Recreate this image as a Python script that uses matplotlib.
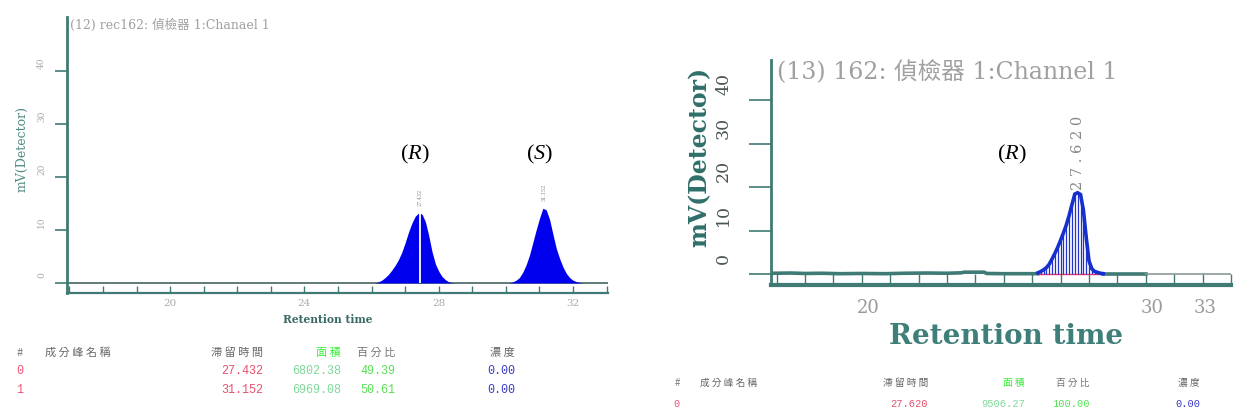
import matplotlib
matplotlib.use("Agg")
import matplotlib.pyplot as plt
from matplotlib.ticker import FixedLocator, MultipleLocator
from matplotlib.transforms import ScaledTranslation

plt.rcParams['font.family'] = ['DejaVu Serif', 'Noto Sans CJK TC']
plt.rcParams['mathtext.fontset'] = 'custom'
plt.rcParams['mathtext.it'] = 'Liberation Serif:italic'
plt.rcParams['mathtext.rm'] = 'Liberation Serif'

# -------------------------
# DATA
# -------------------------
left_title = "(12) rec162: 偵檢器 1:Chanael 1"
right_title = "(13) 162: 偵檢器 1:Channel 1"

# left chromatogram, peak (R)
r_time = [26.1, 26.2, 26.3, 26.4, 26.5, 26.6, 26.7, 26.8, 26.9, 27.0, 27.1, 27.2, 27.3,
          27.4, 27.5, 27.6, 27.7, 27.8, 27.9, 28.0, 28.1, 28.2, 28.3, 28.4, 28.5]
r_mv = [0.0, 0.2, 0.5, 1.0, 1.6, 2.4, 3.3, 4.4, 5.8, 7.6, 9.6, 11.3, 12.6,
        13.2, 13.0, 11.6, 9.0, 5.9, 3.6, 2.2, 1.2, 0.6, 0.2, 0.05, 0.0]

# left chromatogram, peak (S)
s_time = [30.1, 30.2, 30.3, 30.4, 30.5, 30.6, 30.7, 30.8, 30.9, 31.0, 31.1, 31.2,
          31.3, 31.4, 31.5, 31.6, 31.7, 31.8, 31.9, 32.0, 32.1, 32.2, 32.3]
s_mv = [0.0, 0.2, 0.5, 1.0, 2.0, 3.4, 5.2, 7.6, 10.0, 12.2, 14.1, 13.8,
        12.0, 9.2, 6.5, 4.6, 3.0, 1.8, 1.0, 0.5, 0.25, 0.1, 0.0]

left_rt = [27.432, 31.152]
left_rt_height = [13.2, 14.1]

# right chromatogram
base_time = [16.9, 17.5, 18.0, 18.6, 19.2, 20.0, 20.8, 21.5, 22.3, 23.0, 23.5, 23.6,
             24.3, 24.4, 25.0, 25.6, 26.2]
base_mv = [0.2, 0.25, 0.15, 0.2, 0.1, 0.15, 0.1, 0.2, 0.25, 0.2, 0.3, 0.45,
           0.45, 0.15, 0.1, 0.1, 0.1]
tail_time = [28.5, 29.0, 29.5, 30.0]
tail_mv = [0.1, 0.1, 0.1, 0.1]
end_time = [30.0, 31.0, 32.0, 33.0]
end_mv = [0.1, 0.1, 0.1, 0.1]

q_time = [26.2, 26.3, 26.4, 26.5, 26.6, 26.7, 26.8, 26.9, 27.0, 27.1, 27.2, 27.3,
          27.4, 27.5, 27.6, 27.7, 27.8, 27.9, 28.0, 28.1, 28.2, 28.3, 28.4, 28.5]
q_mv = [0.3, 0.6, 1.0, 1.5, 2.3, 3.5, 4.8, 6.2, 7.8, 9.5, 11.3, 13.5,
        16.0, 18.4, 18.7, 18.3, 14.8, 8.5, 3.0, 1.2, 0.6, 0.4, 0.2, 0.1]
right_rt = 27.620

# tables
headers = ["#", "成 分 峰 名 稱", "滯 留 時 間", "面 積", "百 分 比", "濃 度"]
left_idx = ["0", "1"]
left_ret = ["27.432", "31.152"]
left_area = ["6802.38", "6969.08"]
left_pct = ["49.39", "50.61"]
left_conc = ["0.00", "0.00"]
right_idx = ["0"]
right_ret = ["27.620"]
right_area = ["9506.27"]
right_pct = ["100.00"]
right_conc = ["0.00"]

TEAL = "#3f7a74"
W, H = 1237, 416

fig = plt.figure(figsize=(W / 100, H / 100), dpi=100)


def fx(px):
    return px / W


def fy(py):
    return 1 - py / H


# -------------------------
# LEFT CHROMATOGRAM
# -------------------------
ax1 = fig.add_axes([fx(67), fy(293), (608 - 67) / W, (293 - 17) / H])
ax1.set_xlim(16.93, 33.04)
ax1.set_ylim(-1.9, 50.2)
ax1.axhline(0, color="#55706c", lw=1.3, zorder=1)
ax1.fill_between(r_time, r_mv, 0, color="#0000ee", lw=0, zorder=2)
ax1.fill_between(s_time, s_mv, 0, color="#0000ee", lw=0, zorder=2)
ax1.vlines(left_rt[0], 0, left_rt_height[0], color="white", lw=1.3, zorder=3)
for t, h in zip(left_rt, left_rt_height):
    ax1.text(t, h + 1.3, f"{t:.3f}", rotation=90, fontsize=3.5, color="#888888",
             ha="center", va="bottom")

for sp in ["top", "right"]:
    ax1.spines[sp].set_visible(False)
ax1.spines["left"].set_color(TEAL)
ax1.spines["left"].set_linewidth(2)
ax1.spines["bottom"].set_color(TEAL)
ax1.spines["bottom"].set_linewidth(1.6)

ax1.xaxis.set_major_locator(FixedLocator([20, 24, 28, 32]))
ax1.xaxis.set_minor_locator(MultipleLocator(1))
ax1.tick_params(axis="x", which="both", direction="in", length=5, width=1,
                color=TEAL, labelsize=7.5, labelcolor="#aaaaaa", pad=4)
ax1.set_yticks([0, 10, 20, 30, 40])
ax1.tick_params(axis="y", direction="out", length=9, width=1.2, color=TEAL,
                labelsize=6.5, labelcolor="#aaaaaa", pad=6, labelrotation=90)
for lab in ax1.get_yticklabels():
    lab.set_va("center")
    lab.set_transform(lab.get_transform() + ScaledTranslation(0, 0.08, fig.dpi_scale_trans))

ax1.set_xlabel("Retention time", fontsize=7.7, fontweight="bold", color="#3a6a66",
               va="center")
ax1.xaxis.set_label_coords(0.482, -0.095)
ax1.set_ylabel("mV(Detector)", fontsize=9, color="#4f8a84",
               va="center", ha="center")
ax1.yaxis.set_label_coords(-0.083, 0.52)
ax1.text(0.006, 0.971, left_title, transform=ax1.transAxes, fontsize=9,
         color="#a0a0a0", va="center", ha="left")

ax1.text(27.29, 24.2, r"($\mathit{R}$)", fontsize=16, family="Liberation Serif",
         ha="center", va="center")
ax1.text(31.01, 24.2, r"($\mathit{S}$)", fontsize=16, family="Liberation Serif",
         ha="center", va="center")

# -------------------------
# RIGHT CHROMATOGRAM
# -------------------------
ax2 = fig.add_axes([fx(771), fy(285), (1231 - 771) / W, (285 - 60) / H])
ax2.set_xlim(16.8, 33.0)
ax2.set_ylim(-2.5, 49.2)
ax2.plot(base_time, base_mv, color=TEAL, lw=2.6, zorder=2)
ax2.plot(tail_time, tail_mv, color=TEAL, lw=2.6, zorder=2)
ax2.plot(end_time, end_mv, color="#8a9a98", lw=1.2, zorder=2)
ax2.plot([q_time[0], q_time[-1]], [0, 0], color="#ee3366", lw=1.0, zorder=3)
ax2.vlines(q_time, 0, q_mv, color="#2233cc", lw=0.9, zorder=3)
ax2.plot(q_time, q_mv, color="#1530cc", lw=2.6, zorder=4, solid_joinstyle="miter")
ax2.text(right_rt, 19.4, "2 7 . 6 2 0", rotation=90, fontsize=10.5, color="#888888",
         ha="center", va="bottom")

for sp in ["top", "right"]:
    ax2.spines[sp].set_visible(False)
ax2.spines["left"].set_color(TEAL)
ax2.spines["left"].set_linewidth(2)
ax2.spines["bottom"].set_color(TEAL)
ax2.spines["bottom"].set_linewidth(3)

ax2.xaxis.set_major_locator(FixedLocator([20, 30, 33]))
ax2.xaxis.set_minor_locator(MultipleLocator(1))
ax2.tick_params(axis="x", which="both", direction="in", length=8, width=1,
                color=TEAL, labelsize=13, labelcolor="#9a9a9a", pad=10)
x_shift = [0.06, 0.06, -0.26]
for lab, dx in zip(ax2.get_xticklabels(), x_shift):
    lab.set_transform(lab.get_transform() + ScaledTranslation(dx, 0, fig.dpi_scale_trans))

ax2.set_yticks([0, 10, 20, 30, 40])
ax2.tick_params(axis="y", direction="out", length=16, width=1.2, color=TEAL,
                labelsize=12.5, labelcolor="#4a5553", pad=12, labelrotation=90)
for lab in ax2.get_yticklabels():
    lab.set_va("center")
    lab.set_transform(lab.get_transform() + ScaledTranslation(0, 0.16, fig.dpi_scale_trans))

ax2.set_xlabel("Retention time", fontsize=20, fontweight="bold", color="#3f7f7a",
               va="center")
ax2.xaxis.set_label_coords(0.51, -0.231)
ax2.set_ylabel("mV(Detector)", fontsize=17, fontweight="bold", color="#2f6f6a",
               va="center", ha="center")
ax2.yaxis.set_label_coords(-0.155, 0.57)
ax2.text(0.013, 0.947, right_title, transform=ax2.transAxes, fontsize=17,
         color="#a0a0a0", va="center", ha="left")
ax2.text(25.28, 27.4, r"($\mathit{R}$)", fontsize=16, family="Liberation Serif",
         ha="center", va="center")


# -------------------------
# PEAK TABLES
# -------------------------
def draw_table(cols, y_head, y_rows, idx, ret, area, pct, conc, cjk_size, num_size):
    cjk = ["Noto Sans CJK TC"]
    x_idx, x_name, x_ret, x_area, x_pct, x_conc = cols
    fig.text(fx(x_idx), fy(y_head), headers[0], fontsize=cjk_size, color="#777777",
             ha="center", va="center", family=cjk)
    fig.text(fx(x_name), fy(y_head), headers[1], fontsize=cjk_size, color="#666666",
             ha="left", va="center", family=cjk)
    head_colors = ["#666666", "#33ee33", "#777777", "#666666"]
    for x, lab, c in zip([x_ret, x_area, x_pct, x_conc], headers[2:], head_colors):
        fig.text(fx(x), fy(y_head), lab, fontsize=cjk_size, color=c, ha="right",
                 va="center", family=cjk)
    for i in range(len(idx)):
        y = fy(y_rows[i])
        fig.text(fx(x_idx), y, idx[i], fontsize=num_size, color="#ee5577",
                 ha="center", va="center", family="Liberation Mono")
        vals = [ret[i], area[i], pct[i], conc[i]]
        colors = ["#e8506e", "#7fd89a", "#55e055", "#3c3cc8"]
        for x, v, c in zip([x_ret, x_area, x_pct, x_conc], vals, colors):
            fig.text(fx(x), y, v, fontsize=num_size, color=c, ha="right",
                     va="center", family="Liberation Mono")


draw_table([20, 45, 263, 341, 395, 515], 353, [371, 390],
           left_idx, left_ret, left_area, left_pct, left_conc, 8, 8.5)
draw_table([677, 700, 928, 1025, 1090, 1200], 383, [404],
           right_idx, right_ret, right_area, right_pct, right_conc, 7, 7.5)

fig.savefig("out.png", dpi=100, facecolor="white")
